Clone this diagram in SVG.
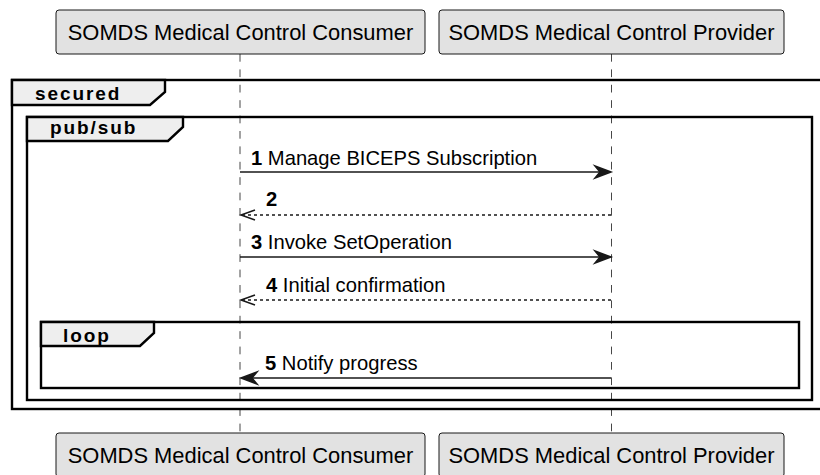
<svg xmlns="http://www.w3.org/2000/svg" width="820" height="475" viewBox="0 0 820 475">
<defs>
<style>
.bg{fill:#FFFFFF}
.part rect{fill:#E2E2E2;stroke:#181818;stroke-width:1}
.part text{font-family:"Liberation Sans",Arial,sans-serif;font-size:21.9px;fill:#000;text-anchor:middle}
.life{stroke:#181818;stroke-width:0.8;stroke-dasharray:7.7,7.7;fill:none}
.frame{fill:none;stroke:#000;stroke-width:2.4}
.tab{fill:#EEEEEE;stroke:#000;stroke-width:2.4;stroke-linejoin:miter}
.flabel{font-family:"Liberation Sans",Arial,sans-serif;font-size:19px;font-weight:bold;letter-spacing:1.9px;fill:#000}
.msg{stroke:#181818;stroke-width:1.5;fill:none}
.ret{stroke:#181818;stroke-width:1.5;fill:none;stroke-dasharray:3,3}
.head{fill:#181818;stroke:#181818;stroke-width:1.5}
.open{fill:none;stroke:#181818;stroke-width:1.5}
.mtext{font-family:"Liberation Sans",Arial,sans-serif;font-size:20.2px;fill:#000}
.num{font-weight:bold}
</style>
</defs>
<rect class="bg" x="0" y="0" width="820" height="475"/>
<g id="lifelines">
<line class="life" x1="240" y1="54" x2="240" y2="433"/>
<line class="life" x1="611.5" y1="54" x2="611.5" y2="433"/>
</g>
<g id="frame-secured">
<rect class="frame" x="12" y="80" width="812" height="329"/>
<path class="tab" d="M12,80 L165,80 L165,92 L150,105 L12,105 Z"/>
<text class="flabel" x="35" y="100">secured</text>
</g>
<g id="frame-pubsub">
<rect class="frame" x="27" y="117" width="785" height="283"/>
<path class="tab" d="M27,117 L183,117 L183,127 L168,141 L27,141 Z"/>
<text class="flabel" x="50" y="134">pub/sub</text>
</g>
<g id="frame-loop">
<rect class="frame" x="41" y="322" width="758" height="66"/>
<path class="tab" d="M41,322 L154,322 L154,333 L140,346 L41,346 Z"/>
<text class="flabel" x="63" y="342">loop</text>
</g>
<g id="consumer-top" class="part">
<rect x="56" y="10" width="369" height="44" rx="3" ry="3"/>
<text x="240.5" y="40">SOMDS Medical Control Consumer</text>
</g>
<g id="provider-top" class="part">
<rect x="439" y="10" width="345" height="44" rx="3" ry="3"/>
<text x="611.5" y="40">SOMDS Medical Control Provider</text>
</g>
<g id="consumer-bottom" class="part">
<rect x="56" y="433" width="369" height="44" rx="3" ry="3"/>
<text x="240.5" y="463">SOMDS Medical Control Consumer</text>
</g>
<g id="provider-bottom" class="part">
<rect x="439" y="433" width="345" height="44" rx="3" ry="3"/>
<text x="611.5" y="463">SOMDS Medical Control Provider</text>
</g>
<g id="connectors">
<line class="msg" x1="240" y1="172" x2="608" y2="172"/>
<polygon class="head" points="611,172 595,166 600,172 595,178"/>
<text class="mtext" x="251" y="165"><tspan class="num">1</tspan> Manage BICEPS Subscription</text>

<line class="ret" x1="242" y1="215" x2="611" y2="215"/>
<polyline class="open" points="255,210 241,215 255,220"/>
<text class="mtext" x="266" y="206"><tspan class="num">2</tspan></text>

<line class="msg" x1="240" y1="257" x2="608" y2="257"/>
<polygon class="head" points="611,257 595,251 600,257 595,263"/>
<text class="mtext" x="251" y="249"><tspan class="num">3</tspan> Invoke SetOperation</text>

<line class="ret" x1="242" y1="300" x2="611" y2="300"/>
<polyline class="open" points="255,295 241,300 255,305"/>
<text class="mtext" x="266" y="292"><tspan class="num">4</tspan> Initial confirmation</text>

<line class="msg" x1="244" y1="378" x2="611" y2="378"/>
<polygon class="head" points="241,378 257,372 252,378 257,384"/>
<text class="mtext" x="265" y="370"><tspan class="num">5</tspan> Notify progress</text>
</g>
</svg>
